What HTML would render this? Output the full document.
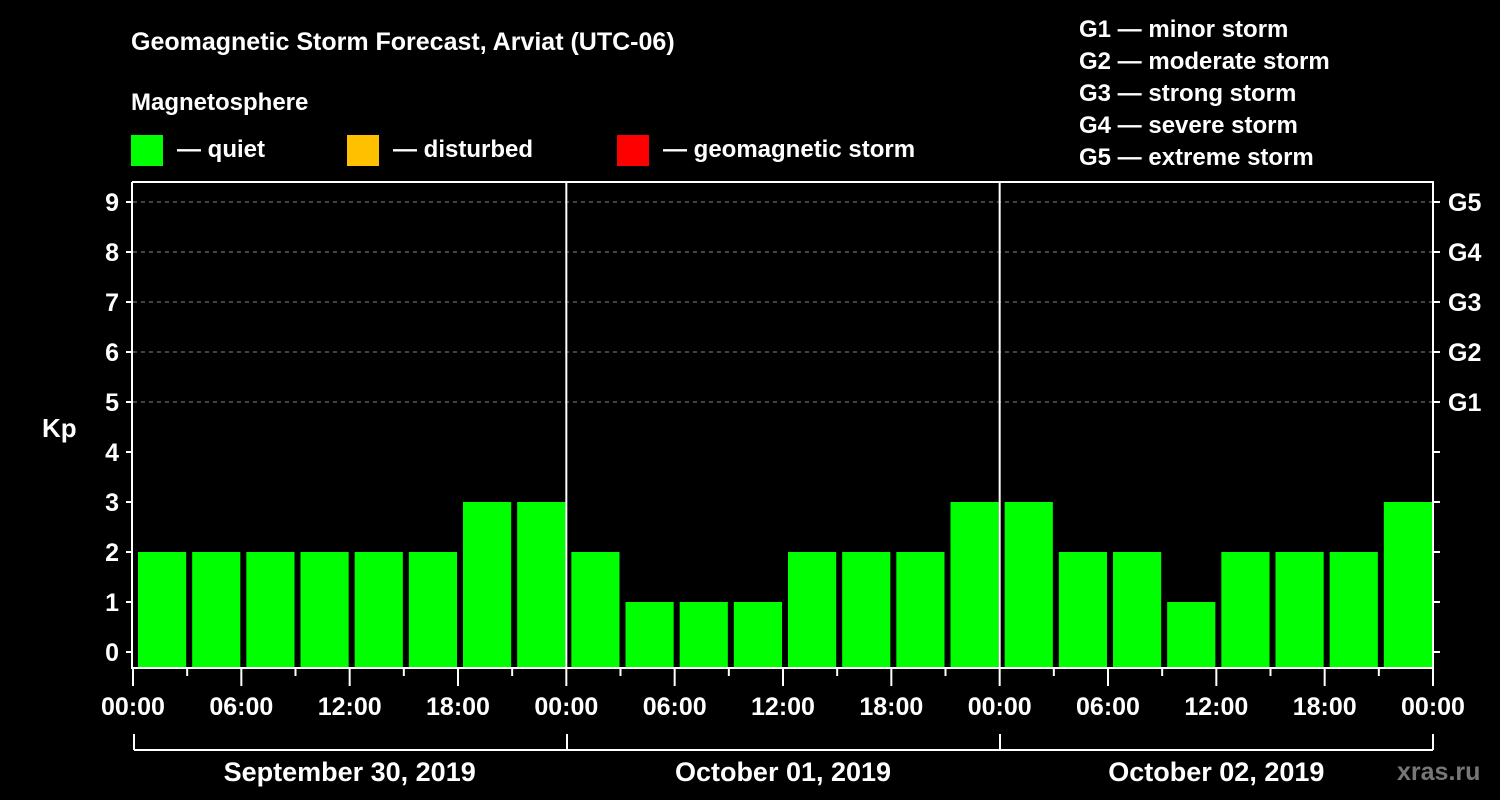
<!DOCTYPE html>
<html><head><meta charset="utf-8"><style>
html,body{margin:0;padding:0;background:#000;width:1500px;height:800px;overflow:hidden}
svg{display:block;font-family:"Liberation Sans",Arial,sans-serif;font-weight:bold}
</style></head><body>
<svg id="chart" width="1500" height="800" viewBox="0 0 1500 800">
<rect width="1500" height="800" fill="#000"/>
<text x="131" y="50" fill="#fff" font-size="25">Geomagnetic Storm Forecast, Arviat (UTC-06)</text>
<text x="131" y="110" fill="#fff" font-size="24">Magnetosphere</text>
<g><rect x="131" y="135" width="32" height="31" fill="#00ff00"/><text x="177" y="157" fill="#fff" font-size="24">— quiet</text></g>
<g><rect x="347" y="135" width="32" height="31" fill="#ffc000"/><text x="393" y="157" fill="#fff" font-size="24">— disturbed</text></g>
<g><rect x="617" y="135" width="32" height="31" fill="#ff0000"/><text x="663" y="157" fill="#fff" font-size="24">— geomagnetic storm</text></g>
<g fill="#fff" font-size="24">
<text x="1079" y="37">G1 — minor storm</text>
<text x="1079" y="69">G2 — moderate storm</text>
<text x="1079" y="101">G3 — strong storm</text>
<text x="1079" y="133">G4 — severe storm</text>
<text x="1079" y="165">G5 — extreme storm</text>
</g>
<g id="grid"></g><g id="bars"></g><g id="axes"></g>
<text x="42" y="437" fill="#fff" font-size="26">Kp</text>
<text x="1397" y="780" fill="#777" font-size="25">xras.ru</text>
</svg>
<script>
const kpValues=[2,2,2,2,2,2,3,3, 2,1,1,1,2,2,2,3, 3,2,2,1,2,2,2,3];
const dayLabels=["September 30, 2019","October 01, 2019","October 02, 2019"];
const timeLabels=["00:00","06:00","12:00","18:00"];
const gLabels=["G1","G2","G3","G4","G5"];
const yTicks=[0,1,2,3,4,5,6,7,8,9];
const NS="http://www.w3.org/2000/svg";
const X0=133,X1=1433,Y0=182,YB=668;
const slot=(X1-X0)/kpValues.length;
function y(v){return 652-50*v;}
function x(i){return X0+i*slot;}
function mk(tag,attrs,parent){const e=document.createElementNS(NS,tag);for(const k in attrs)e.setAttribute(k,attrs[k]);parent.appendChild(e);return e;}
const grid=document.getElementById('grid'),bars=document.getElementById('bars'),axes=document.getElementById('axes');
for(let k=5;k<=9;k++){const l=mk('line',{x1:X0,x2:X1,y1:y(k),y2:y(k),stroke:'#888','stroke-width':1,'stroke-dasharray':'4,4'},grid);

}
kpValues.forEach((v,i)=>{const c=v>=5?'#ff0000':(v>=4?'#ffc000':'#00ff00');
const r=mk('rect',{x:x(i)+5,y:y(v),width:slot-6,height:YB-y(v),fill:c},bars);

});
// axes frame
mk('polyline',{points:`${X0-1},${Y0} ${X0-1},${YB} ${X1},${YB} ${X1},${Y0} ${X0-1},${Y0}`,fill:'none',stroke:'#fff','stroke-width':2},axes);
for(let d=1;d<3;d++){const xx=X0+d*(X1-X0)/3;mk('line',{x1:xx,x2:xx,y1:Y0,y2:YB,stroke:'#fff','stroke-width':2},axes);}
yTicks.forEach(t=>{mk('line',{x1:X0-7,x2:X0,y1:y(t),y2:y(t),stroke:'#fff','stroke-width':2},axes);
mk('line',{x1:X1,x2:X1+7,y1:y(t),y2:y(t),stroke:'#fff','stroke-width':2},axes);
const tx=mk('text',{x:X0-14,y:y(t)+9,fill:'#fff','font-size':25,'text-anchor':'end'},axes);tx.textContent=t;

});
gLabels.forEach((g,i)=>{const tx=mk('text',{x:X1+15,y:y(i+5)+9,fill:'#fff','font-size':25},axes);tx.textContent=g;

});
for(let i=0;i<=kpValues.length;i++){const major=i%2===0;
mk('line',{x1:x(i),x2:x(i),y1:YB,y2:YB+(major?18:8),stroke:'#fff','stroke-width':2},axes);
if(major){const tx=mk('text',{x:x(i),y:715,fill:'#fff','font-size':25,'text-anchor':'middle'},axes);tx.textContent=timeLabels[(i/2)%4];

}}
mk('line',{x1:X0+1,x2:X1,y1:750,y2:750,stroke:'#fff','stroke-width':2},axes);
for(let d=0;d<=3;d++){const xx=X0+1+d*(X1-X0-1)/3;mk('line',{x1:xx,x2:xx,y1:734,y2:750,stroke:'#fff','stroke-width':2},axes);}
dayLabels.forEach((s,d)=>{const tx=mk('text',{x:X0+(d+0.5)*(X1-X0)/3,y:781,fill:'#fff','font-size':27,'text-anchor':'middle'},axes);tx.textContent=s;

});
</script>
</body></html>
